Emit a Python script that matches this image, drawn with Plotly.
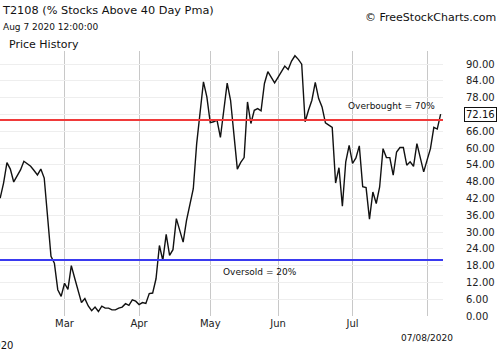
import plotly.graph_objects as go

# trading-day index (0 = Feb 3 2020) and T2108 values
values = [
    42.1, 47.5, 54.8, 52.5, 47.9, 49.8, 52.2, 55.3, 54.5, 53.5,
    52.0, 50.4, 52.5, 49.3, 35.4, 21.3, 18.9, 9.4, 7.0, 11.7,
    9.5, 18.0, 13.5, 9.3, 4.8, 6.2, 3.6, 1.9, 3.2, 1.6,
    3.5, 2.8, 2.8, 2.2, 2.2, 2.8, 3.2, 4.4, 3.8, 5.8,
    5.3, 4.1, 4.8, 4.5, 8.0, 8.2, 13.3, 25.2, 19.9, 29.2,
    21.7, 23.7, 34.8, 30.6, 26.4, 34.2, 40.2, 45.5, 61.6, 72.4,
    83.7, 78.3, 69.1, 69.4, 70.0, 63.8, 73.5, 83.2, 77.1, 64.8,
    52.5, 54.9, 56.6, 76.5, 68.8, 73.5, 74.1, 73.3, 83.1, 87.3,
    85.5, 83.3, 85.3, 87.3, 89.3, 88.1, 91.1, 93.0, 91.7, 90.0,
    69.4, 73.5, 77.1, 83.5, 77.7, 74.7, 69.0, 68.2, 67.4, 47.5,
    53.0, 39.2, 55.1, 61.0, 54.5, 56.5, 60.8, 46.2, 45.9, 34.6,
    44.3, 40.2, 46.1, 59.8, 56.6, 56.6, 50.3, 58.6, 60.2, 60.2,
    53.9, 55.1, 53.5, 61.6, 56.8, 51.5, 55.7, 59.8, 67.4, 66.8,
    72.16,
]
day_index = list(range(len(values)))

month_tick_pos = [0, 19, 41, 62, 82, 104, 126]
month_tick_text = ["", "Mar", "Apr", "May", "Jun", "Jul", ""]
y_ticks = [0, 6, 12, 18, 24, 30, 36, 42, 48, 54, 60, 66, 72, 78, 84, 90]

overbought = 70
oversold = 20
last_value = values[-1]

FONT = "DejaVu Sans"

fig = go.Figure()
fig.add_trace(go.Scatter(
    x=day_index, y=values, mode="lines",
    line=dict(color="#111111", width=1.4),
    hoverinfo="skip", showlegend=False,
))

fig.add_hline(y=overbought, line=dict(color="#f03a3a", width=2))
fig.add_hline(y=oversold, line=dict(color="#3a3af0", width=2))

fig.update_layout(
    width=500, height=350,
    margin=dict(l=0, r=57, t=51, b=34),
    paper_bgcolor="white", plot_bgcolor="white",
    font=dict(family=FONT, size=10, color="#222222"),
    xaxis=dict(
        range=[-0.05, 130.7],
        tickmode="array", tickvals=month_tick_pos, ticktext=month_tick_text,
        showgrid=True, gridcolor="#c8c8c8", gridwidth=1,
        zeroline=False, showline=False, ticks="",
        tickfont=dict(family=FONT, size=10, color="#222222"),
    ),
    yaxis=dict(
        range=[0, 94.7], side="right",
        tickmode="array", tickvals=y_ticks, tickformat=".2f",
        showgrid=True, gridcolor="#eeeeee", gridwidth=1,
        zeroline=False, showline=False, ticks="",
        ticklabelstandoff=22,
        tickfont=dict(family=FONT, size=10, color="#222222"),
    ),
)

ann = [
    dict(text="T2108 (% Stocks Above 40 Day Pma)", x=0, y=1, xref="paper", yref="paper",
         xanchor="left", yanchor="top", xshift=0, yshift=51 - 2,
         font=dict(family=FONT, size=11.3, color="#111111"), showarrow=False),
    dict(text="Aug 7 2020 12:00:00", x=0, y=1, xref="paper", yref="paper",
         xanchor="left", yanchor="top", xshift=1, yshift=51 - 20,
         font=dict(family=FONT, size=9, color="#111111"), showarrow=False),
    dict(text="Price History", x=0, y=1, xref="paper", yref="paper",
         xanchor="left", yanchor="top", xshift=7, yshift=51 - 36,
         font=dict(family=FONT, size=11, color="#111111"), showarrow=False),
    dict(text="© FreeStockCharts.com", x=1, y=1, xref="paper", yref="paper",
         xanchor="right", yanchor="top", xshift=57 - 2, yshift=51 - 9,
         font=dict(family=FONT, size=11, color="#111111"), showarrow=False),
    dict(text="Overbought = 70%", x=0.987, y=overbought, xref="paper", yref="y",
         xanchor="right", yanchor="bottom", yshift=7,
         font=dict(family=FONT, size=9, color="#111111"), showarrow=False),
    dict(text="Oversold = 20%", x=0.499, y=oversold, xref="paper", yref="y",
         xanchor="left", yanchor="top", yshift=-5,
         font=dict(family=FONT, size=9, color="#111111"), showarrow=False),
    dict(text=f"{last_value:.2f}", x=1, y=last_value, xref="paper", yref="y",
         xanchor="left", yanchor="middle", xshift=21,
         bgcolor="white", bordercolor="#111111", borderwidth=1, borderpad=1,
         font=dict(family=FONT, size=10, color="#111111"), showarrow=False),
    dict(text="2020", x=0, y=0, xref="x", yref="paper",
         xanchor="center", yanchor="top", yshift=-22,
         font=dict(family=FONT, size=10, color="#111111"), showarrow=False),
    dict(text="07/08/2020", x=month_tick_pos[-1], y=0, xref="x", yref="paper",
         xanchor="center", yanchor="top", yshift=-15,
         font=dict(family=FONT, size=9, color="#111111"), showarrow=False),
]
fig.update_layout(annotations=ann)

fig.write_html("out.html")
